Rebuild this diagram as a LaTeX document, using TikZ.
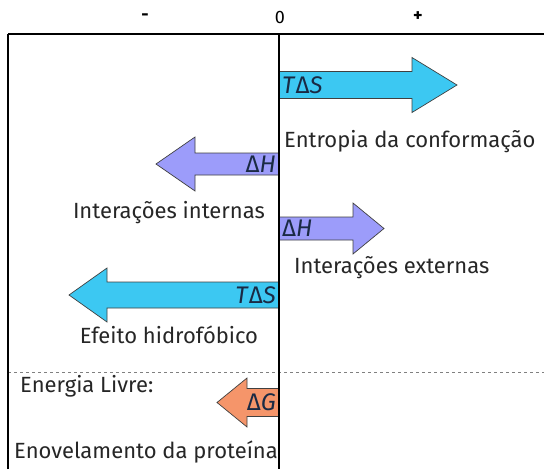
\documentclass[tikz,border=0pt]{standalone}
\usepackage{fontspec}
\setmainfont{Fira Sans}
\definecolor{entropia}{HTML}{3CC8F2}
\definecolor{entalpia}{HTML}{9C9CFA}
\definecolor{livre}{HTML}{F5956A}
\definecolor{tinta}{HTML}{1A2A44}

% right or left arrow from the zero line: colour, y, tip x, head x, shaft half, head half
\newcommand{\setaenergia}[6]{%
  \draw[seta,fill=#1] (279,#2-#5) -- (#4,#2-#5) -- (#4,#2-#6) -- (#3,#2)
    -- (#4,#2+#6) -- (#4,#2+#5) -- (279,#2+#5) -- cycle;}

\tikzset{
  seta/.style={draw=black!75,line width=0.7pt,line join=miter},
  rotulo/.style={font=\fontsize{22}{26}\selectfont,text=black!85,inner sep=0pt},
  grandeza/.style={font=\fontsize{24}{28}\selectfont,text=tinta,inner sep=0pt},
  eixo/.style={font=\fontsize{18}{22}\selectfont,inner sep=0pt},
}

\begin{document}
\begin{tikzpicture}[x=1pt,y=-1pt]
  \useasboundingbox (0,0) rectangle (544,469);
  % axis labels
  \node[eixo] (menos) at (145,17) {\textbf{-}};
  \node[eixo] (zero) at (280,17) {0};
  \node[eixo] (mais) at (418,17) {\textbf{+}};
  % arrows
  \setaenergia{entropia}{85}{457}{412}{13.5}{27.5}
  \setaenergia{entalpia}{164}{156}{195}{11}{27}
  \setaenergia{entalpia}{228.5}{384}{353}{11.5}{25.5}
  \setaenergia{entropia}{295}{69}{107}{13}{27}
  \setaenergia{livre}{402.5}{217}{247}{14}{24.5}
  % quantities on the arrows
  \node[grandeza,anchor=west] (ts1) at (282,85) {\textit{T}Δ\textit{S}};
  \node[grandeza,anchor=east] (dh1) at (276,164) {Δ\textit{H}};
  \node[grandeza,anchor=west] (dh2) at (282,228.5) {Δ\textit{H}};
  \node[grandeza,anchor=east] (ts2) at (276,295) {\textit{T}Δ\textit{S}};
  \node[grandeza,anchor=east] (dg) at (276,402.5) {Δ\textit{G}};
  % descriptions
  \node[rotulo,anchor=west] (conform) at (284,142) {Entropia da conformação};
  \node[rotulo,anchor=east] (internas) at (265,213) {Interações internas};
  \node[rotulo,anchor=west] (externas) at (294,268) {Interações externas};
  \node[rotulo] (hidro) at (169,335) {Efeito hidrofóbico};
  \node[rotulo,anchor=west] (livre) at (20,386) {Energia Livre:};
  \node[rotulo,anchor=west] (enovel) at (14,452) {Enovelamento da proteína};
  % frame
  \draw[gray,dashed,line width=0.6pt] (8,372) -- (544,372);
  \draw[line width=1.8pt] (8,469) -- (8,34) (8,34) -- (544,34);
  \draw[line width=1.8pt] (279,34) -- (279,469);
\end{tikzpicture}
\end{document}
